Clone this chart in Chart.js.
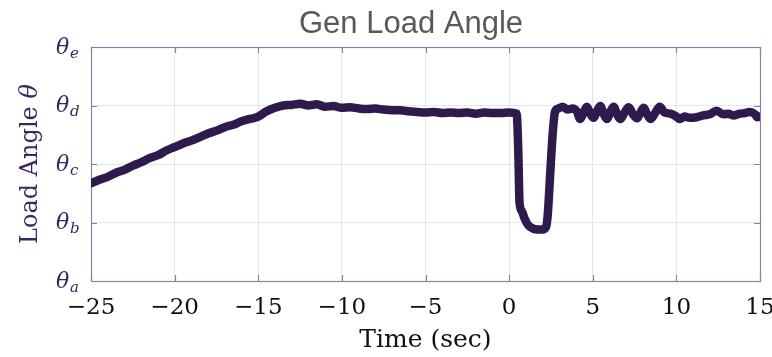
<!DOCTYPE html>
<html>
<head>
<meta charset="utf-8">
<script src="https://cdn.jsdelivr.net/npm/chart.js@4.4.1/dist/chart.umd.min.js"></script>
<style>
html,body{margin:0;padding:0;background:#fff}
#wrap{width:772px;height:357px}
</style>
</head>
<body>
<div id="wrap"><canvas id="myc" width="772" height="357"></canvas></div>
<script>
// values (y: 0 = theta_a ... 4 = theta_e)
var times = [-25,-24.5,-24,-23.5,-23,-22.5,-22,-21.5,-21,-20.5,-20,-19.5,-19,-18.5,-18,-17.5,-17,-16.5,-16,-15.5,
  -15,-14.5,-14,-13.5,-13,-12.5,-12,-11.5,-11,-10.5,-10,-9.5,-9,-8.5,-8,-7.5,-7,-6.5,-6,-5.5,
  -5,-4.5,-4,-3.5,-3,-2.5,-2,-1.5,-1,-0.5,0,
  0.45,0.55,0.62,0.75,0.95,1.15,1.4,1.7,2.0,2.2,2.3,2.45,2.6,2.75,2.95,
  3.2,3.5,3.8,4.05,4.25,4.45,4.65,4.85,5.05,5.25,5.45,5.65,5.85,6.05,6.25,6.45,6.65,6.9,7.15,7.4,7.65,7.85,
  8.05,8.25,8.45,8.75,9.0,9.3,9.65,9.95,10.2,10.5,10.8,11.2,11.6,12.0,12.4,12.8,13.1,13.4,13.8,14.1,14.4,14.7,14.85,15];
var angle = [1.67,1.73,1.78,1.85,1.90,1.97,2.03,2.10,2.15,2.23,2.29,2.35,2.40,2.46,2.52,2.57,2.63,2.67,2.73,2.77,
  2.81,2.90,2.96,3.00,3.01,3.03,3.00,3.02,2.98,2.99,2.96,2.97,2.95,2.94,2.95,2.93,2.92,2.92,2.90,2.89,
  2.88,2.89,2.87,2.88,2.87,2.88,2.86,2.88,2.87,2.87,2.88,
  2.86,2.2,1.35,1.2,1.05,0.95,0.90,0.88,0.88,0.92,1.1,1.8,2.5,2.9,2.95,
  2.98,2.93,2.95,2.90,2.77,2.88,2.98,2.86,2.79,2.90,2.99,2.86,2.77,2.89,2.98,2.85,2.77,2.88,2.97,2.85,2.78,2.88,
  2.96,2.85,2.77,2.88,2.98,2.88,2.86,2.82,2.77,2.81,2.79,2.80,2.83,2.85,2.91,2.85,2.86,2.83,2.86,2.87,2.89,2.85,2.80,2.81];
var xTicks = [-25,-20,-15,-10,-5,0,5,10,15];
var yTicks = [0,1,2,3,4];
var ySubs = ['a','b','c','d','e'];
var titleText = 'Gen Load Angle';
var xTitle = 'Time (sec)';
var yTitle = 'Load Angle ';

var lineCol = '#2f1a4e';
var labCol = '#3b265f';
var axCol = '#8c7fa8';

var decor = {
  id: 'decor',
  beforeDatasetsDraw: function(chart) {
    var ctx = chart.ctx, a = chart.chartArea;
    var xs = chart.scales.x, ys = chart.scales.y;
    ctx.save();
    ctx.strokeStyle = axCol;
    ctx.lineWidth = 1.2;
    ctx.strokeRect(a.left + 0.5, a.top + 0.5, a.right - a.left, a.bottom - a.top);
    ctx.beginPath();
    xTicks.forEach(function(v) {
      var px = Math.round(xs.getPixelForValue(v)) + 0.5;
      ctx.moveTo(px, a.bottom); ctx.lineTo(px, a.bottom - 6);
      ctx.moveTo(px, a.top); ctx.lineTo(px, a.top + 6);
    });
    yTicks.forEach(function(v) {
      var py = Math.round(ys.getPixelForValue(v)) + 0.5;
      ctx.moveTo(a.left, py); ctx.lineTo(a.left + 6, py);
      ctx.moveTo(a.right, py); ctx.lineTo(a.right - 6, py);
    });
    ctx.stroke();
    ctx.restore();
  },
  afterDraw: function(chart) {
    var ctx = chart.ctx, a = chart.chartArea;
    var ys = chart.scales.y;
    ctx.save();
    // title
    ctx.fillStyle = '#595959';
    ctx.font = '31px "Liberation Sans"';
    ctx.textAlign = 'center';
    ctx.textBaseline = 'alphabetic';
    ctx.fillText(titleText, 411, 33);
    // x title
    ctx.fillStyle = '#111';
    ctx.font = '25px "DejaVu Serif"';
    ctx.fillText(xTitle, (a.left + a.right) / 2, 347);
    // y tick labels
    ctx.fillStyle = labCol;
    ctx.textAlign = 'left';
    ctx.textBaseline = 'middle';
    yTicks.forEach(function(v, i) {
      var py = ys.getPixelForValue(v);
      ctx.font = 'italic 22px "DejaVu Serif"';
      ctx.fillText('θ', 56, py + 1);
      ctx.font = 'italic 15px "DejaVu Serif"';
      ctx.fillText(ySubs[i], 70, py + 7);
    });
    // y title
    ctx.translate(31, (a.top + a.bottom) / 2);
    ctx.rotate(-Math.PI / 2);
    ctx.font = '24px "DejaVu Serif"';
    var w1 = ctx.measureText(yTitle).width;
    ctx.font = 'italic 24px "DejaVu Serif"';
    var w2 = ctx.measureText('θ').width;
    var sx = -(w1 + w2) / 2;
    ctx.textAlign = 'left';
    ctx.font = '24px "DejaVu Serif"';
    ctx.fillText(yTitle, sx, 0);
    ctx.font = 'italic 24px "DejaVu Serif"';
    ctx.fillText('θ', sx + w1, 0);
    ctx.restore();
  }
};

var pts = times.map(function(t, i) { return {x: t, y: angle[i]}; });

const config = {
  type: 'line',
  data: {
    datasets: [{
      data: pts,
      borderColor: lineCol,
      borderWidth: 8.5,
      pointRadius: 0,
      cubicInterpolationMode: 'monotone',
      borderJoinStyle: 'round',
      borderCapStyle: 'round'
    }]
  },
  options: {
    responsive: false,
    devicePixelRatio: 1,
    animation: false,
    layout: { padding: { left: 0, right: 12, top: 47, bottom: 0 } },
    plugins: { legend: { display: false }, tooltip: { enabled: false }, title: { display: false } },
    scales: {
      x: {
        type: 'linear', min: -25, max: 15,
        afterBuildTicks: function(s) { s.ticks = xTicks.map(function(v) { return {value: v}; }); },
        afterFit: function(s) { s.height = 76; s.paddingLeft = 0; s.paddingRight = 0; },
        grid: { color: '#e6e6e6', drawTicks: false },
        border: { display: false },
        ticks: {
          padding: 13,
          color: '#111',
          font: { family: 'DejaVu Serif', size: 23 },
          maxRotation: 0,
          callback: function(v) { return v < 0 ? '\u2212' + Math.abs(v) : '' + v; }
        }
      },
      y: {
        min: 0, max: 4,
        afterBuildTicks: function(s) { s.ticks = yTicks.map(function(v) { return {value: v}; }); },
        afterFit: function(s) { s.width = 91; },
        grid: { color: '#e6e6e6', drawTicks: false },
        border: { display: false },
        ticks: { display: false }
      }
    }
  },
  plugins: [decor]
};

const ctx = document.getElementById('myc').getContext('2d');
var myChart = new Chart(ctx, config);
</script>
</body>
</html>
